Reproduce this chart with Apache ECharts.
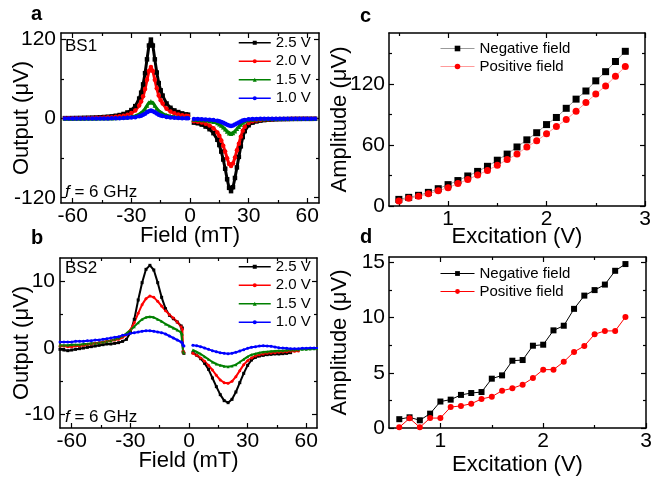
<!DOCTYPE html>
<html>
<head>
<meta charset="utf-8">
<script src="https://cdn.jsdelivr.net/npm/echarts@6/dist/echarts.min.js"></script>
<style>
  html, body { margin: 0; padding: 0; background: #fff; }
  #main { width: 651px; height: 480px; }
</style>
</head>
<body>
<div id="main"></div>
<script>
// ---- panel a (BS1) ----
var fieldANeg = [-64,-62,-60,-58,-56,-54,-52,-50,-48,-46,-44,-42,-40,-38,-36,-34,-32,-30,-28,-26,-25,-24,-23,-22,-21,-20,-19,-18,-17,-16,-15,-14,-12,-10,-8,-6,-4,-2,-1];
var a25Neg = [0.8,0.8,0.9,1.0,1.1,1.3,1.4,1.6,1.8,2.1,2.5,3.0,3.5,4.4,5.5,7.1,9.4,13,19,30.5,39.5,52,69,90,111,120,111,90,70,54,43,35,23,16.5,12.5,10,8,6.5,6];
var a20Neg = [0.5,0.5,0.6,0.7,0.7,0.8,0.9,1.0,1.2,1.4,1.6,2.0,2.3,2.9,3.6,4.6,6.1,8.5,12.4,20,26,34,45,59,72.5,78.5,72.5,59,46,35,28,23,15,10.8,8.2,6.5,5.2,4.3,4];
var a15Neg = [0.2,0.2,0.2,0.2,0.2,0.3,0.3,0.4,0.4,0.5,0.6,0.7,0.8,1.0,1.2,1.6,2.1,2.9,4.2,6.7,8.7,11.4,15.2,19.8,24.4,26.4,24.4,19.8,15.4,11.9,9.5,7.7,5.1,3.6,2.8,2.2,1.8,1.4,1.3];
var a10Neg = [0.1,0.1,0.1,0.1,0.1,0.1,0.2,0.2,0.2,0.3,0.3,0.4,0.5,0.6,0.7,0.9,1.2,1.6,2.3,3.6,4.6,5.9,7.6,9.6,11.4,12.2,11.4,9.6,7.7,6.1,4.9,3.9,2.6,1.8,1.3,1.0,0.8,0.6,0.6];
var fieldAPos = [2,4,6,8,10,12,14,15,16,17,18,19,20,21,22,23,24,25,26,27,28,30,32,34,36,38,40,42,44,46,48,50,52,54,56,58,60,62,64];
var a25Pos = [-6,-7,-9,-12,-16,-22,-32,-40,-50,-62,-76,-92,-105,-110,-104,-90,-74,-58,-42,-28,-19,-10,-6,-4.2,-3,-2.2,-1.7,-1.3,-1.0,-0.8,-0.7,-0.6,-0.5,-0.4,-0.4,-0.3,-0.3,-0.3,-0.2];
var a20Pos = [-3.9,-4.6,-5.9,-7.9,-10.5,-14.4,-21,-26,-33,-41,-50,-60,-69,-72,-68,-59,-48,-38,-27.5,-18.3,-12.4,-6.6,-3.9,-2.8,-2.0,-1.4,-1.1,-0.9,-0.7,-0.5,-0.5,-0.4,-0.3,-0.3,-0.3,-0.2,-0.2,-0.2,-0.1];
var a15Pos = [-1.3,-1.5,-1.9,-2.5,-3.4,-4.6,-6.7,-8.4,-10.5,-13,-16,-19.3,-22,-23,-21.8,-19,-15.5,-12.2,-8.8,-5.9,-4.0,-2.1,-1.3,-0.9,-0.6,-0.5,-0.4,-0.3,-0.2,-0.2,-0.1,-0.1,-0.1,-0.1,-0.1,0,0,0,0];
var a10Pos = [-0.6,-0.7,-0.9,-1.2,-1.6,-2.2,-3.2,-4.0,-5.0,-6.2,-7.6,-9.2,-10.5,-11,-10.4,-9.0,-7.4,-5.8,-4.2,-2.8,-1.9,-1.0,-0.6,-0.4,-0.3,-0.2,-0.2,-0.1,-0.1,-0.1,0,0,0,0,0,0,0,0,0];

// ---- panel b (BS2) ----
var fieldBNeg = [-66,-64,-62,-60,-58,-56,-54,-52,-50,-48,-46,-44,-42,-40,-38,-36,-34,-32,-30,-28,-26,-24,-22,-20,-18,-16,-14,-12,-10,-8,-6,-4,-3.4,-3.0,-2.6];
var b25Neg = [-0.2,-0.3,-0.4,-0.3,-0.2,-0.1,0.0,0.1,0.2,0.3,0.4,0.5,0.6,0.6,0.7,0.8,1.0,1.3,2.3,4.3,7.2,9.8,11.8,12.4,11.7,9.8,7.6,5.9,4.9,4.4,3.9,3.3,3.0,-0.6,-0.8];
var b20Neg = [0.3,0.3,0.2,0.2,0.3,0.3,0.4,0.5,0.6,0.7,0.8,0.9,1.0,1.1,1.2,1.3,1.6,2.0,2.7,3.8,5.2,6.5,7.4,7.8,7.6,7.0,6.3,5.6,5.0,4.5,3.9,3.2,2.8,-0.5,-0.7];
var b15Neg = [0.4,0.4,0.4,0.5,0.5,0.5,0.6,0.6,0.7,0.7,0.8,0.9,1.0,1.1,1.3,1.5,1.8,2.2,2.7,3.2,3.8,4.3,4.6,4.7,4.6,4.3,4.0,3.6,3.3,3.0,2.7,2.3,2.1,-0.5,-0.7];
var b10Neg = [0.9,0.9,0.9,0.9,1.0,1.0,1.0,1.1,1.1,1.2,1.2,1.3,1.4,1.5,1.6,1.7,1.9,2.0,2.2,2.3,2.4,2.5,2.6,2.6,2.5,2.4,2.3,2.1,1.8,1.5,1.2,0.9,0.8,0.4,0.3];
var fieldBPos = [2,4,6,8,10,12,14,16,18,20,22,24,26,28,30,32,34,36,38,40,42,44,46,48,50,52,54,56,58,60,62,64,66];
var b25Pos = [-0.7,-1.1,-1.6,-2.3,-3.2,-4.5,-5.8,-7.0,-7.9,-8.2,-7.7,-6.6,-5.2,-3.8,-2.6,-1.8,-1.4,-1.2,-1.1,-1.0,-0.95,-0.9,-0.9,-0.85,-0.8,-0.7];
var b20Pos = [-0.8,-1.1,-1.5,-2.0,-2.6,-3.3,-4.1,-4.8,-5.2,-5.3,-5.0,-4.3,-3.4,-2.5,-1.9,-1.5,-1.2,-1.0,-0.9,-0.8,-0.75,-0.7,-0.65,-0.6,-0.55,-0.5,-0.5,-0.45];
var b15Pos = [-0.3,-0.6,-0.9,-1.3,-1.7,-2.1,-2.4,-2.6,-2.75,-2.8,-2.7,-2.5,-2.1,-1.7,-1.3,-1.0,-0.85,-0.7,-0.6,-0.55,-0.5,-0.45,-0.4,-0.4,-0.35,-0.3,-0.3,-0.25,-0.2,-0.2,-0.15,-0.1,-0.1];
var b10Pos = [0.4,0.35,0.2,0.0,-0.2,-0.4,-0.55,-0.7,-0.8,-0.85,-0.8,-0.65,-0.45,-0.25,-0.05,0.1,0.2,0.3,0.35,0.3,0.25,0.15,0.05,0.0,-0.05,-0.1,-0.1,-0.1,-0.05,-0.05,0.0,0.0,0.0];

// ---- panel c ----
var excC = [0.5,0.6,0.7,0.8,0.9,1.0,1.1,1.2,1.3,1.4,1.5,1.6,1.7,1.8,1.9,2.0,2.1,2.2,2.3,2.4,2.5,2.6,2.7,2.8];
var cNeg = [6.5,8.5,10.5,13.4,17,21,25,29.5,34,39,45,51,58,65,72,80,87,96,105,113,123,132,142,152];
var cPos = [5,7.5,9.5,12,15,18,22,26,30.5,35,40,45.6,51,58,64,71,78,85,93,101.6,110,118,127.5,137];

// ---- panel d ----
var excD = [0.6,0.7,0.8,0.9,1.0,1.1,1.2,1.3,1.4,1.5,1.6,1.7,1.8,1.9,2.0,2.1,2.2,2.3,2.4,2.5,2.6,2.7,2.8];
var dNeg = [0.8,0.97,0.7,1.3,2.4,2.57,3.0,3.17,3.26,4.47,4.77,6.1,6.16,7.46,7.55,8.85,9.27,10.8,12.0,12.5,13.0,14.25,14.86];
var dPos = [0.06,0.88,0.06,0.9,0.9,1.9,2.0,2.2,2.63,2.84,3.38,3.6,3.93,4.53,5.29,5.29,6.0,6.9,7.43,8.5,8.8,8.8,10.06];

var voltNames = ['2.5 V', '2.0 V', '1.5 V', '1.0 V'];
var voltColors = ['#000000', '#ff0000', '#008000', '#0000ff'];
var voltSymbols = ['rect', 'circle', 'triangle', 'circle'];

var FONT = 'Liberation Sans, Arial, sans-serif';

function pairs(xs, ys) {
  var out = [];
  for (var i = 0; i < ys.length; i++) out.push([xs[i], ys[i]]);
  return out;
}

function tickAxis(grid, pos, min, max, values, len, withLine) {
  return {
    type: 'value', gridIndex: grid, position: pos, min: min, max: max,
    axisLine: { show: withLine, onZero: false, lineStyle: { color: '#000', width: 1.5 } },
    axisTick: { show: true, inside: true, length: len, customValues: values, lineStyle: { color: '#000', width: 1.2 } },
    axisLabel: { show: false },
    splitLine: { show: false }
  };
}

function boxAxes(kind, grid, min, max, major, minor, name, nameGap, labelMargin) {
  var p1 = kind === 'x' ? 'bottom' : 'left';
  var p2 = kind === 'x' ? 'top' : 'right';
  var main = tickAxis(grid, p1, min, max, major, 5, true);
  main.axisLabel = { show: true, customValues: major, margin: labelMargin, fontSize: 21, fontFamily: FONT, color: '#000' };
  main.name = name;
  main.nameLocation = 'middle';
  main.nameGap = nameGap;
  main.nameMoveOverlap = false;
  main.nameTextStyle = { fontSize: 22, fontFamily: FONT, color: '#000' };
  return [
    main,
    tickAxis(grid, p2, min, max, major, 5, true),
    tickAxis(grid, p1, min, max, minor, 3, false),
    tickAxis(grid, p2, min, max, minor, 3, false)
  ];
}

var grids = [
  { left: 61, top: 33, width: 258, height: 170, outerBoundsMode: 'none' },
  { left: 60, top: 258, width: 257, height: 170, outerBoundsMode: 'none' },
  { left: 389, top: 33, width: 256, height: 173, outerBoundsMode: 'none' },
  { left: 389, top: 257, width: 257, height: 171, outerBoundsMode: 'none' }
];

var xAxes = [].concat(
  boxAxes('x', 0, -66, 66, [-60, -30, 0, 30, 60], [-45, -15, 15, 45], 'Field (mT)', 22, 3),
  boxAxes('x', 1, -66, 65.5, [-60, -30, 0, 30, 60], [-45, -15, 15, 45], 'Field (mT)', 22, 3),
  boxAxes('x', 2, 0.4, 3, [1, 2, 3], [0.5, 1.5, 2.5], 'Excitation (V)', 20, 3),
  boxAxes('x', 3, 0.5, 3, [1, 2, 3], [1.5, 2.5], 'Excitation (V)', 26, 3)
);
var yAxes = [].concat(
  boxAxes('y', 0, -128, 130, [-120, 0, 120], [-60, 60], 'Output (\u03bcV)', 28, 5),
  boxAxes('y', 1, -12, 13.5, [-10, 0, 10], [-5, 5], 'Output (\u03bcV)', 27, 5),
  boxAxes('y', 2, 0, 170, [0, 60, 120], [30, 90, 150], 'Amplitude (\u03bcV)', 38, 4),
  boxAxes('y', 3, 0, 15.5, [0, 5, 10, 15], [2.5, 7.5, 12.5], 'Amplitude (\u03bcV)', 38, 4)
);

var series = [];
function fieldSeries(grid, negX, negYs, posX, posYs, lineW, symSize) {
  for (var k = 0; k < 4; k++) {
    var data = pairs(negX, negYs[k]).concat([[0, '-']], pairs(posX, posYs[k]));
    series.push({
      name: voltNames[k], type: 'line', xAxisIndex: grid * 4, yAxisIndex: grid * 4,
      data: data, symbol: voltSymbols[k], symbolSize: symSize, showSymbol: true,
      connectNulls: false, animation: false,
      lineStyle: { color: voltColors[k], width: lineW },
      itemStyle: { color: voltColors[k] }
    });
  }
}
fieldSeries(0, fieldANeg, [a25Neg, a20Neg, a15Neg, a10Neg], fieldAPos, [a25Pos, a20Pos, a15Pos, a10Pos], 3, 4.5);
fieldSeries(1, fieldBNeg, [b25Neg, b20Neg, b15Neg, b10Neg], fieldBPos, [b25Pos, b20Pos, b15Pos, b10Pos], 2, 3);

function ampSeries(grid, xs, neg, pos, negLine, posLine, sym) {
  series.push({
    name: 'Negative field', type: 'line', xAxisIndex: grid * 4, yAxisIndex: grid * 4,
    data: pairs(xs, neg), symbol: 'rect', symbolSize: sym, animation: false,
    lineStyle: { color: negLine, width: 1 }, itemStyle: { color: '#000' }
  });
  series.push({
    name: 'Positive field', type: 'line', xAxisIndex: grid * 4, yAxisIndex: grid * 4,
    data: pairs(xs, pos), symbol: 'circle', symbolSize: sym, animation: false,
    lineStyle: { color: posLine, width: 1 }, itemStyle: { color: '#ff0000' }
  });
}
ampSeries(2, excC, cNeg, cPos, '#9a9a9a', '#ff9a9a', 7);
ampSeries(3, excD, dNeg, dPos, '#000', '#ff0000', 6);

function voltLegend(top) {
  return {
    orient: 'vertical', left: 238, top: top, padding: 0, itemGap: 1,
    itemWidth: 32, itemHeight: 5, align: 'left',
    textStyle: { fontSize: 15, fontFamily: FONT, color: '#000', lineHeight: 17.5 },
    data: voltNames.map(function (n, k) {
      return { name: n, itemStyle: { color: voltColors[k] }, lineStyle: { color: voltColors[k], width: 1.5 } };
    })
  };
}
function ampLegend(top, negLine, posLine, sym) {
  return {
    orient: 'vertical', left: 440, top: top, padding: 0, itemGap: 1,
    itemWidth: 34, itemHeight: sym, align: 'left',
    textStyle: { fontSize: 15, fontFamily: FONT, color: '#000', lineHeight: 17 },
    data: [
      { name: 'Negative field', itemStyle: { color: '#000' }, lineStyle: { color: negLine, width: 1 } },
      { name: 'Positive field', itemStyle: { color: '#ff0000' }, lineStyle: { color: posLine, width: 1 } }
    ]
  };
}

function label(text, x, y, size, bold) {
  return {
    type: 'text', left: x, top: y,
    style: { text: text, fontSize: size, fontFamily: FONT, fontWeight: bold ? 'bold' : 'normal', fill: '#000' }
  };
}
function freqLabel(x, y) {
  return {
    type: 'text', left: x, top: y,
    style: {
      text: '{i|f} = 6 GHz', fontSize: 17, fontFamily: FONT, fill: '#000',
      rich: { i: { fontStyle: 'italic', fontSize: 17, fontFamily: FONT } }
    }
  };
}

var chart = echarts.init(document.getElementById('main'));
chart.setOption({
  backgroundColor: '#fff',
  animation: false,
  grid: grids,
  xAxis: xAxes,
  yAxis: yAxes,
  legend: [voltLegend(34), voltLegend(258), ampLegend(40, '#9a9a9a', '#ff9a9a', 7), ampLegend(265, '#000', '#ff0000', 6)],
  series: series,
  graphic: [
    label('a', 31, 4, 20, true),
    label('b', 31, 228, 20, true),
    label('c', 360, 6, 20, true),
    label('d', 360, 227, 20, true),
    label('BS1', 65, 38, 17, false),
    label('BS2', 65, 260, 17, false),
    freqLabel(65, 184),
    freqLabel(65, 409)
  ]
});
</script>
</body>
</html>
